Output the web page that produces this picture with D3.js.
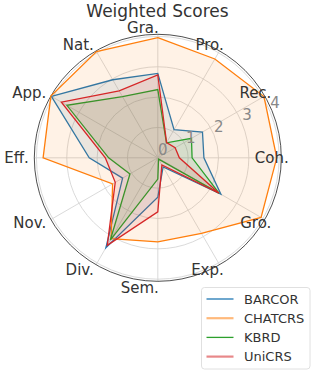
<!DOCTYPE html>
<html>
<head>
<meta charset="utf-8">
<script src="https://cdn.jsdelivr.net/npm/d3@7"></script>
<style>
  body { margin: 0; background: #ffffff; }
  svg { display: block; font-family: "DejaVu Sans", sans-serif; }
</style>
</head>
<body>
<div id="chart"></div>
<script>
// Axis categories, clockwise from the top
const categories = ['Gra.', 'Pro.', 'Rec.', 'Coh.', 'Gro.', 'Exp.', 'Sem.', 'Div.', 'Nov.', 'Eff.', 'App.', 'Nat.'];

// Series values (same order as categories)
const barcor  = [2.78, 1.07, 1.70, 1.52, 2.40, 0.35, 1.30, 3.42, 1.34, 2.26, 4.05, 2.97];
const chatcrs = [3.96, 3.76, 4.04, 3.92, 3.93, 2.88, 2.77, 3.08, 1.72, 3.78, 4.07, 4.04];
const kbrd    = [2.25, 0.57, 1.28, 1.13, 2.33, 0.05, 0.70, 3.13, 1.06, 1.62, 3.46, 2.33];
const unicrs  = [2.73, 0.58, 0.66, 0.71, 2.33, 0.27, 1.78, 3.33, 1.62, 1.73, 3.67, 2.55];

const seriesNames = ['BARCOR', 'CHATCRS', 'KBRD', 'UniCRS'];
const radialTicks = [0, 1, 2, 3, 4];
const rMax = 4.07;

const width = 314, height = 373;
const cx = 157.8, cy = 157.8, outerR = 123.5;

const colors = ['#1f77b4', '#ff7f0e', '#2ca02c', '#d62728'];
const seriesData = [barcor, chatcrs, kbrd, unicrs];

const svg = d3.select('#chart')
    .append('svg')
    .attr('width', width)
    .attr('height', height);

const r = d3.scaleLinear().domain([0, rMax]).range([0, outerR]);
const angle = d3.scaleLinear().domain([0, categories.length]).range([0, 2 * Math.PI]);

const g = svg.append('g').attr('transform', `translate(${cx},${cy})`);

// grid rings
g.append('g').attr('class', 'rings')
    .selectAll('circle')
    .data(radialTicks.filter(d => d > 0))
    .enter()
    .append('circle')
    .attr('r', d => r(d))
    .attr('fill', 'none')
    .attr('stroke', '#d0d0d0')
    .attr('stroke-width', 0.8);

// spokes
g.append('g').attr('class', 'spokes')
    .selectAll('line')
    .data(categories)
    .enter()
    .append('line')
    .attr('x1', 0).attr('y1', 0)
    .attr('x2', (d, i) => outerR * Math.sin(angle(i)))
    .attr('y2', (d, i) => -outerR * Math.cos(angle(i)))
    .attr('stroke', '#d0d0d0')
    .attr('stroke-width', 0.8);

// outer frame
g.append('circle')
    .attr('r', outerR)
    .attr('fill', 'none')
    .attr('stroke', '#222')
    .attr('stroke-width', 0.8);

// series polygons
const radar = d3.lineRadial()
    .angle((d, i) => angle(i))
    .radius(d => r(d))
    .curve(d3.curveLinearClosed);

const seriesGroup = g.append('g').attr('class', 'series');
seriesData.forEach((vals, i) => {
    seriesGroup.append('path')
        .attr('d', radar(vals))
        .attr('fill', 'none')
        .attr('stroke', colors[i])
        .attr('stroke-width', 1.3)
        .attr('stroke-linejoin', 'miter');
    seriesGroup.append('path')
        .attr('d', radar(vals))
        .attr('fill', colors[i])
        .attr('fill-opacity', 0.1)
        .attr('stroke', 'none');
});

// category labels (right aligned at the spoke end)
g.append('g').attr('class', 'cat-labels')
    .selectAll('text')
    .data(categories)
    .enter()
    .append('text')
    .attr('x', (d, i) => 130 * Math.sin(angle(i)) + 1)
    .attr('y', (d, i) => -130 * Math.cos(angle(i)))
    .attr('text-anchor', 'end')
    .attr('dominant-baseline', 'central')
    .attr('font-size', '15px')
    .attr('fill', '#333')
    .text(d => d);

// radial tick labels along 22.5 degrees
const tickAng = 22.5 * Math.PI / 180;
g.append('g').attr('class', 'r-labels')
    .selectAll('text')
    .data(radialTicks)
    .enter()
    .append('text')
    .attr('x', d => r(d) * Math.cos(tickAng) + 5)
    .attr('y', d => -r(d) * Math.sin(tickAng) - 8)
    .attr('text-anchor', 'middle')
    .attr('dominant-baseline', 'central')
    .attr('font-size', '15px')
    .attr('fill', '#888')
    .text(d => d);

// title
svg.append('text')
    .attr('x', 157.5)
    .attr('y', 16.5)
    .attr('text-anchor', 'middle')
    .attr('font-size', '17px')
    .attr('fill', '#333')
    .text('Weighted Scores');

// legend
const legend = svg.append('g').attr('class', 'legend')
    .attr('transform', 'translate(201.5,287.5)');

legend.append('rect')
    .attr('width', 108.5)
    .attr('height', 81.5)
    .attr('rx', 3)
    .attr('fill', '#fff')
    .attr('stroke', '#d8d8d8')
    .attr('stroke-width', 0.8);

const legendStyle = [
    { w: 1.3, o: 1 },
    { w: 2.2, o: 0.55 },
    { w: 1.3, o: 1 },
    { w: 2.2, o: 0.55 }
];

seriesNames.forEach((name, i) => {
    const y = 11.5 + i * 19.2;
    legend.append('line')
        .attr('x1', 5).attr('x2', 32)
        .attr('y1', y).attr('y2', y)
        .attr('stroke', colors[i])
        .attr('stroke-width', legendStyle[i].w)
        .attr('stroke-opacity', legendStyle[i].o);
    legend.append('text')
        .attr('x', 42.5)
        .attr('y', y)
        .attr('dominant-baseline', 'central')
        .attr('font-size', '13px')
        .attr('fill', '#333')
        .text(name);
});
</script>
</body>
</html>
